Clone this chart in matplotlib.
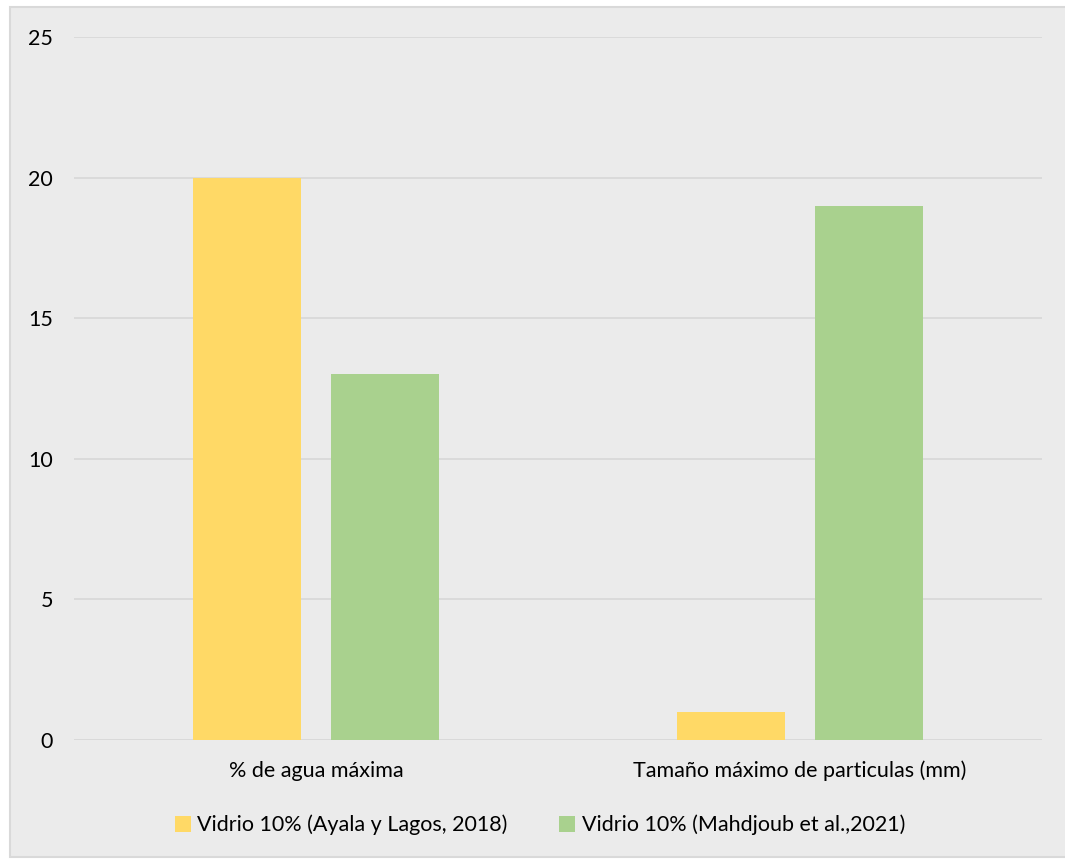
import numpy as np
import matplotlib.pyplot as plt
from matplotlib.patches import Rectangle

categories = ['% de agua máxima', 'Tamaño máximo de particulas (mm)']
ayala = [20, 1]
mahdjoub = [13, 19]
series_names = ['Vidrio 10% (Ayala y Lagos, 2018)', 'Vidrio 10% (Mahdjoub et al.,2021)']
yticks = [0, 5, 10, 15, 20, 25]

plt.rcParams['font.family'] = ['Lato', 'DejaVu Sans']

fig = plt.figure(figsize=(10.65, 8.59), dpi=100)
fig.patch.set_facecolor('white')

# grey chart area with a thin border, kept behind the axes
fig.patches.append(Rectangle((10 / 1065, 2 / 859), 1.0, 1 - 9 / 859,
                             transform=fig.transFigure, facecolor='#ebebeb',
                             edgecolor='#d9d9d9', linewidth=1.5, zorder=-10))

ax = fig.add_axes([74 / 1065, 1 - 740 / 859, 968 / 1065, 703 / 859])
ax.set_facecolor('none')
ax.set_zorder(2)

x = np.arange(len(categories))
width = 0.223
off = 0.143
ax.bar(x - off, ayala, width, color='#ffd966', label=series_names[0], zorder=3)
ax.bar(x + off, mahdjoub, width, color='#a9d18e', label=series_names[1], zorder=3)

ax.set_xlim(-0.5, 1.5)
ax.set_ylim(0, 25)
ax.set_yticks(yticks)
ax.set_xticks(x)
ax.set_xticklabels(categories)
ax.grid(axis='y', color='#d9d9d9', linewidth=1.3, zorder=0)
ax.set_axisbelow(True)
for s in ax.spines.values():
    s.set_visible(False)
ax.tick_params(axis='both', length=0, labelsize=15.5, colors='#000000')
ax.tick_params(axis='y', pad=15)
ax.tick_params(axis='x', pad=15)
ax.axhline(0, color='#d9d9d9', linewidth=1.3, zorder=1)

fig.legend(loc='center', bbox_to_anchor=(0.507, 1 - 825 / 859), ncol=2,
           frameon=False, fontsize=15.5, handlelength=0.75, handleheight=0.75,
           handletextpad=0.3, columnspacing=2.4)

fig.savefig('out.png', dpi=100)
